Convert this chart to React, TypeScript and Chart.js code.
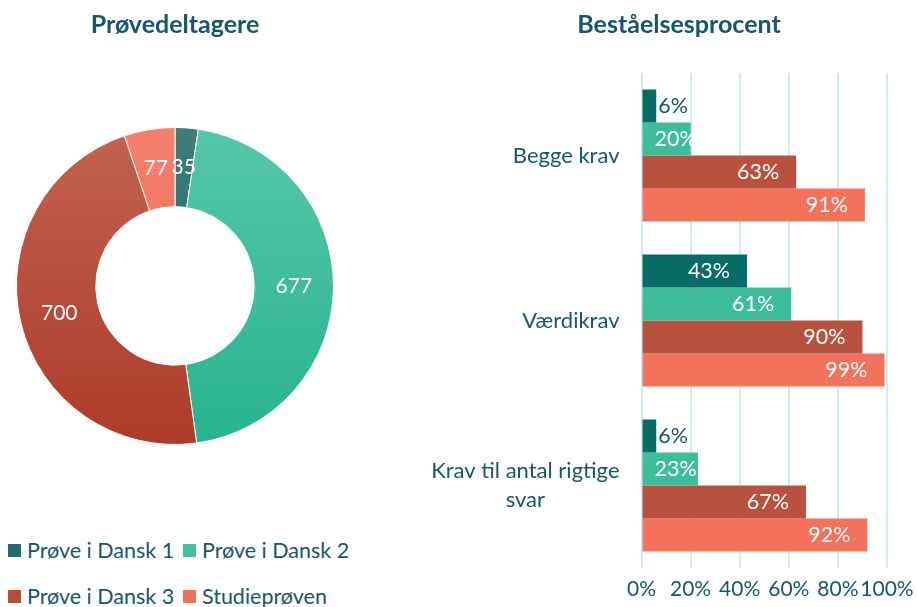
import React, { useEffect, useRef } from "react";
import { Chart, registerables } from "chart.js";

Chart.register(...registerables);

const FONT = "Lato, 'Open Sans', sans-serif";
const TEXT = "#16566f";

const seriesNames = ["Prøve i Dansk 1", "Prøve i Dansk 2", "Prøve i Dansk 3", "Studieprøven"];
const participants = [35, 677, 700, 77];
const barCategories = [["Begge krav"], ["Værdikrav"], ["Krav til antal rigtige", "svar"]];
const dansk1Pass = [6, 43, 6];
const dansk2Pass = [20, 61, 23];
const dansk3Pass = [63, 90, 67];
const studiePass = [91, 99, 92];
const xTicks = [0, 20, 40, 60, 80, 100];

const barColors = ["#076b66", "#3dbd9b", "#b9513f", "#f3725c"];
const gradTop = ["#3f7e7a", "#56c7aa", "#c26250", "#f5806e"];
const gradBottom = ["#056660", "#27b391", "#ad3b29", "#ef624b"];
const legendColors = ["#1e6f6b", "#43c29f", "#b84c3b", "#f26f5a"];

const doughnutLabels = {
  id: "doughnutLabels",
  afterDatasetsDraw(chart: any) {
    const meta = chart.getDatasetMeta(0);
    const ctx = chart.ctx;
    ctx.save();
    ctx.font = `21px ${FONT}`;
    ctx.fillStyle = "#ffffff";
    ctx.textAlign = "center";
    ctx.textBaseline = "middle";
    meta.data.forEach((arc: any, i: number) => {
      const p = arc.getCenterPoint();
      ctx.fillText(String(chart.data.datasets[0].data[i]), p.x, p.y);
    });
    ctx.restore();
  },
};

const yLabels = {
  id: "yLabels",
  afterDraw(chart: any) {
    const y = chart.scales.y;
    const ctx = chart.ctx;
    ctx.save();
    ctx.font = `22px ${FONT}`;
    ctx.fillStyle = TEXT;
    ctx.textAlign = "center";
    ctx.textBaseline = "middle";
    const right = chart.chartArea.left - 22;
    const lh = 29;
    barCategories.forEach((lines, i) => {
      const cy = y.getPixelForTick(i);
      const w = Math.max(...lines.map((l) => ctx.measureText(l).width));
      const cx = right - w / 2;
      lines.forEach((l, j) => ctx.fillText(l, cx, cy + (j - (lines.length - 1) / 2) * lh));
    });
    ctx.restore();
  },
};

const barLabels = {
  id: "barLabels",
  afterDatasetsDraw(chart: any) {
    const ctx = chart.ctx;
    ctx.save();
    ctx.font = `21.5px ${FONT}`;
    ctx.textBaseline = "middle";
    chart.data.datasets.forEach((ds: any, di: number) => {
      const meta = chart.getDatasetMeta(di);
      meta.data.forEach((bar: any, i: number) => {
        const txt = ds.data[i] + "%";
        const w = ctx.measureText(txt).width;
        const { x, y, base } = bar.getProps(["x", "y", "base"], true);
        if (x - base < w) {
          ctx.fillStyle = TEXT;
          ctx.textAlign = "left";
          ctx.fillText(txt, x + 2, y);
        } else {
          ctx.fillStyle = "#ffffff";
          ctx.textAlign = "right";
          ctx.fillText(txt, Math.max(x - 17, base + 12 + w), y);
        }
      });
    });
    ctx.restore();
  },
};

export default function App() {
  const leftRef = useRef<HTMLCanvasElement | null>(null);
  const rightRef = useRef<HTMLCanvasElement | null>(null);

  useEffect(() => {
    const grad = (c: any) => {
      const i = c.dataIndex;
      const ch = c.chart;
      const a = ch.chartArea;
      if (!a) return barColors[i];
      const g = ch.ctx.createLinearGradient(0, a.top, 0, a.bottom);
      g.addColorStop(0, gradTop[i]);
      g.addColorStop(1, gradBottom[i]);
      return g;
    };

    const left = new Chart(leftRef.current as HTMLCanvasElement, {
      type: "doughnut",
      data: {
        labels: seriesNames,
        datasets: [
          {
            data: participants,
            backgroundColor: grad as any,
            borderColor: "#ffffff",
            borderWidth: 1,
          },
        ],
      },
      options: {
        responsive: false,
        animation: false,
        cutout: "50%",
        layout: { padding: { left: 8, right: 8, top: 0, bottom: 8 } },
        plugins: {
          legend: { display: false },
          tooltip: { enabled: false },
          title: {
            display: true,
            text: "Prøvedeltagere",
            color: TEXT,
            font: { family: FONT, size: 25, weight: "bold" },
            padding: { top: 10, bottom: 87 },
          },
        },
      } as any,
      plugins: [doughnutLabels],
    });

    const series = [dansk1Pass, dansk2Pass, dansk3Pass, studiePass];
    const right = new Chart(rightRef.current as HTMLCanvasElement, {
      type: "bar",
      data: {
        labels: barCategories as any,
        datasets: seriesNames.map((n, i) => ({
          label: n,
          data: series[i],
          backgroundColor: barColors[i],
          categoryPercentage: 0.8,
          barPercentage: 1,
          borderWidth: 0,
        })),
      },
      options: {
        indexAxis: "y",
        responsive: false,
        animation: false,
        layout: { padding: { left: 51, right: 30, top: 0, bottom: 0 } },
        scales: {
          x: {
            min: 0,
            max: 100,
            afterBuildTicks: (s: any) => {
              s.ticks = xTicks.map((v) => ({ value: v }));
            },
            ticks: {
              callback: (v: any) => v + "%",
              color: TEXT,
              font: { family: FONT, size: 21 },
              padding: 9,
              maxRotation: 0,
              autoSkip: false,
            },
            grid: { color: "#cbecfa", lineWidth: 2, drawTicks: false },
            border: { display: false },
            afterFit: (s: any) => {
              s.height = 39;
              s.paddingLeft = 0;
              s.paddingRight = 0;
            },
          },
          y: {
            grid: { display: false },
            border: { display: false },
            ticks: { display: false },
            afterFit: (s: any) => {
              s.width = 170.5;
            },
          },
        },
        plugins: {
          legend: { display: false },
          tooltip: { enabled: false },
          title: {
            display: true,
            text: "Beståelsesprocent",
            color: TEXT,
            font: { family: FONT, size: 25, weight: "bold" },
            padding: { top: 10, bottom: 33 },
          },
        },
      } as any,
      plugins: [yLabels, barLabels],
    });

    return () => {
      left.destroy();
      right.destroy();
    };
  }, []);

  return (
    <div
      style={{
        position: "fixed",
        left: 0,
        top: 0,
        width: 917,
        height: 607,
        overflow: "hidden",
        background: "#ffffff",
        fontFamily: FONT,
      }}
    >
      <canvas
        ref={leftRef}
        width={334}
        height={453}
        style={{ position: "absolute", left: 8, top: 0, width: 334, height: 453 }}
      />
      <canvas
        ref={rightRef}
        width={497}
        height={607}
        style={{ position: "absolute", left: 420, top: 0, width: 497, height: 607 }}
      />
      <div
        style={{
          position: "absolute",
          left: 8,
          top: 538,
          display: "grid",
          gridTemplateColumns: "175px auto",
          rowGap: 22,
        }}
      >
        {seriesNames.map((n, i) => (
          <div key={n} style={{ display: "flex", alignItems: "center", height: 24 }}>
            <span
              style={{
                display: "inline-block",
                width: 13,
                height: 13,
                background: legendColors[i],
                marginRight: 6,
              }}
            />
            <span style={{ fontSize: 21.5, lineHeight: "24px", color: TEXT, whiteSpace: "nowrap" }}>{n}</span>
          </div>
        ))}
      </div>
    </div>
  );
}
